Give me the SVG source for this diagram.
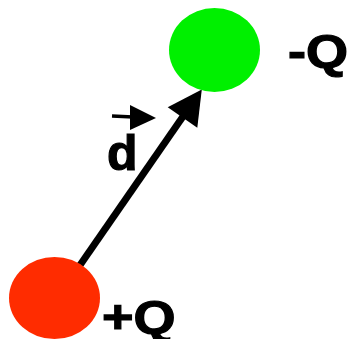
<svg xmlns="http://www.w3.org/2000/svg" width="349" height="339" viewBox="0 0 349 339">
<style>
.lbl{font-family:"Liberation Sans",Arial,sans-serif;font-weight:bold;fill:#000;stroke:#000;stroke-width:1.2px}
.q{font-size:47px}
</style>
<rect width="349" height="339" fill="#fff"/>
<g id="connectors">
<line x1="60" y1="294" x2="184" y2="115" stroke="#000" stroke-width="7"/>
<polygon points="201.8,89.5 167.7,107.3 197.3,127.7" fill="#000"/>
</g>
<g id="neg">
<ellipse cx="214.5" cy="50" rx="45.5" ry="42" fill="#00f000"/>
<text class="lbl q" transform="translate(288,67) scale(1.15,1)">-Q</text>
</g>
<g id="pos">
<ellipse cx="54.5" cy="298" rx="45.5" ry="41" fill="#ff2c00"/>
<text class="lbl q" transform="translate(102,333) scale(1.15,1)">+Q</text>
</g>
<g id="dlabel">
<line x1="112" y1="116" x2="133" y2="117" stroke="#000" stroke-width="3.5"/>
<polygon points="130,105 156,118 130,130" fill="#000"/>
<text class="lbl" x="107" y="170" font-size="50">d</text>
</g>
</svg>
